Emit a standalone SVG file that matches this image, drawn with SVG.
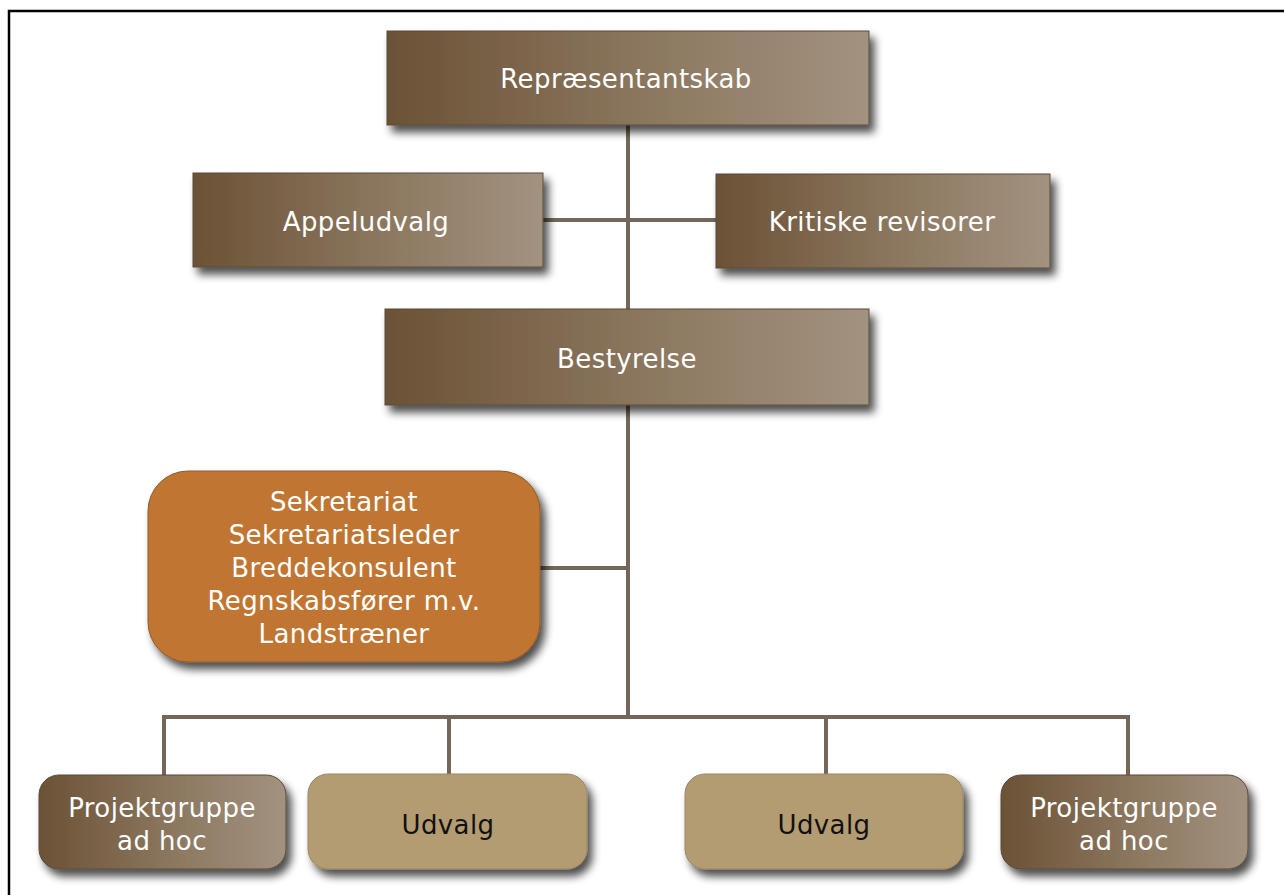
<svg xmlns="http://www.w3.org/2000/svg" width="1284" height="895" viewBox="0 0 1284 895">
<defs>
<linearGradient id="brown" x1="0" y1="0" x2="1" y2="0">
<stop offset="0" stop-color="#6b5236"/>
<stop offset="0.55" stop-color="#8c7860"/>
<stop offset="1" stop-color="#a39280"/>
</linearGradient>
<filter id="sh" x="-10%" y="-20%" width="130%" height="150%">
<feGaussianBlur in="SourceAlpha" stdDeviation="4"/>
<feOffset dx="5" dy="7" result="b"/>
<feComponentTransfer><feFuncA type="linear" slope="0.7"/></feComponentTransfer>
<feMerge><feMergeNode/><feMergeNode in="SourceGraphic"/></feMerge>
</filter>
</defs>
<style>
.box{fill:url(#brown);stroke:#5a4a3a;stroke-width:1;filter:url(#sh)}
.sec{fill:#c07630;stroke:#8a5a2a;stroke-width:1;filter:url(#sh)}
.tan{fill:#b39c72;stroke:#9a8662;stroke-width:1;filter:url(#sh)}
.t{font-family:"DejaVu Sans",Verdana,sans-serif;font-size:26px;letter-spacing:0.4px;fill:#ffffff;text-anchor:middle}
.d{fill:#111111}
.c{stroke:#74675a;stroke-width:4;fill:none}
</style>
<rect width="1284" height="895" fill="#ffffff"/>
<path d="M9 895 V11 H1284" fill="none" stroke="#000" stroke-width="2.5"/>
<g id="connectors">
<path class="c" d="M628 125 V309"/>
<path class="c" d="M543 220 H716"/>
<path class="c" d="M628 405 V717"/>
<path class="c" d="M540 568 H628"/>
<path class="c" d="M164 775 V717 H1128 V775"/>
<path class="c" d="M449 717 V774"/>
<path class="c" d="M826 717 V774"/>
</g>
<g id="repraesentantskab">
<rect class="box" x="387" y="31" width="482" height="94"/>
<text class="t" x="626" y="88">Repræsentantskab</text>
</g>
<g id="appeludvalg">
<rect class="box" x="193" y="173" width="350" height="94"/>
<text class="t" x="366" y="231">Appeludvalg</text>
</g>
<g id="kritiske">
<rect class="box" x="716" y="174" width="334" height="94"/>
<text class="t" x="882" y="231">Kritiske revisorer</text>
</g>
<g id="bestyrelse">
<rect class="box" x="385" y="309" width="484" height="96"/>
<text class="t" x="627" y="368">Bestyrelse</text>
</g>
<g id="sekretariat">
<rect class="sec" x="148" y="471" width="392" height="191" rx="40" ry="40"/>
<text class="t" x="344" y="511">Sekretariat</text>
<text class="t" x="344" y="544">Sekretariatsleder</text>
<text class="t" x="344" y="577">Breddekonsulent</text>
<text class="t" x="344" y="610">Regnskabsfører m.v.</text>
<text class="t" x="344" y="643">Landstræner</text>
</g>
<g id="projektgruppe1">
<rect class="box" x="39" y="775" width="247" height="94" rx="20" ry="20"/>
<text class="t" x="162" y="817">Projektgruppe</text>
<text class="t" x="162" y="850">ad hoc</text>
</g>
<g id="udvalg1">
<rect class="tan" x="308" y="774" width="279" height="95" rx="20" ry="20"/>
<text class="t d" x="448" y="834">Udvalg</text>
</g>
<g id="udvalg2">
<rect class="tan" x="685" y="774" width="278" height="95" rx="20" ry="20"/>
<text class="t d" x="824" y="834">Udvalg</text>
</g>
<g id="projektgruppe2">
<rect class="box" x="1001" y="775" width="247" height="94" rx="20" ry="20"/>
<text class="t" x="1124" y="817">Projektgruppe</text>
<text class="t" x="1124" y="850">ad hoc</text>
</g>
</svg>
